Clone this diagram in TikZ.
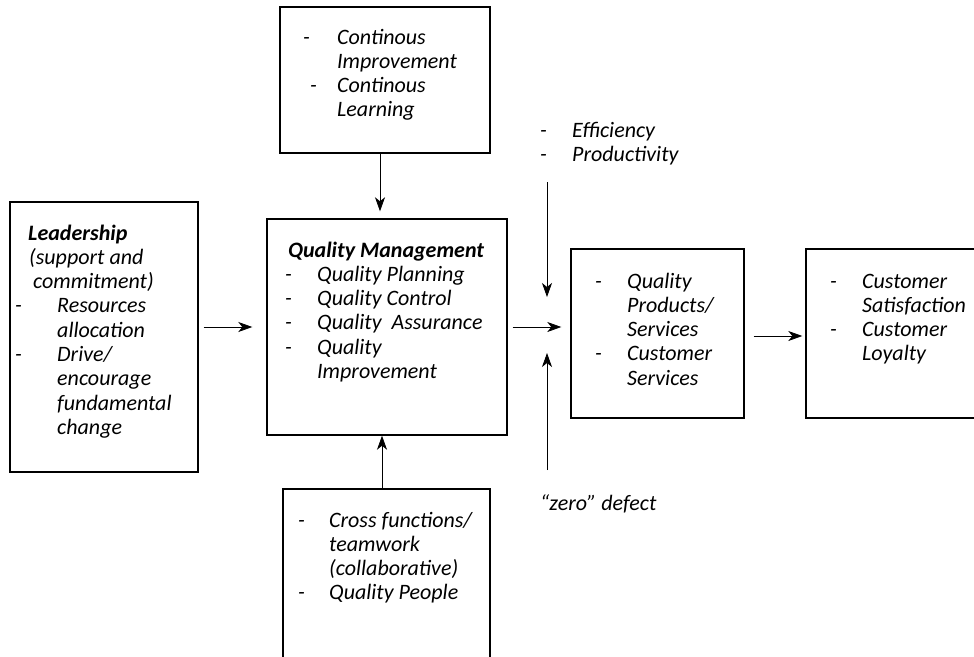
\documentclass[tikz,border=0pt]{standalone}
\usepackage{fontspec}
\setmainfont{Carlito}
\usetikzlibrary{arrows.meta}
\newcommand{\dsh}[1]{\makebox[#1][l]{-}}
\begin{document}
\begin{tikzpicture}[x=1pt,y=-1pt,
  box/.style={draw, line width=1.4pt, rectangle, inner sep=0pt},
  arr/.style={-{Stealth[length=14pt,width=10pt,inset=4pt]}, line width=0.8pt},
  txt/.style={anchor=base west, inner sep=0pt, font=\itshape\fontsize{22}{24.3}\selectfont}]
\useasboundingbox (0,0) rectangle (974,656);
\clip (0,0) rectangle (974,656);

% boxes
\node[box, minimum width=210pt, minimum height=146pt] (top) at (385,80) {};
\node[box, minimum width=240pt, minimum height=216pt] (qm) at (387,327) {};
\node[box, minimum width=188pt, minimum height=270pt] (lead) at (104,337) {};
\node[box, minimum width=173pt, minimum height=169pt] (prod) at (657.5,333.5) {};
\node[box, minimum width=184pt, minimum height=169pt] (cust) at (898,333.5) {};
\node[box, minimum width=207pt, minimum height=191pt] (bot) at (386.5,584.5) {};

% texts
\node[txt] (leadtxt) at (15,240) {\begin{tabular}[t]{@{}l@{}}
\hspace*{13pt}\textbf{Leadership}\\
\hspace*{14pt}(support and\\
\hspace*{18pt}commitment)\\
\dsh{42pt}Resources\\
\hspace*{42pt}allocation\\
\dsh{42pt}Drive/\\
\hspace*{42pt}encourage\\
\hspace*{42pt}fundamental\\
\hspace*{42pt}change
\end{tabular}};

\node[txt] (toptxt) at (303,44) {\begin{tabular}[t]{@{}l@{}}
\dsh{34pt}Continous\\
\hspace*{34pt}Improvement\\
\hspace*{7pt}\dsh{27pt}Continous\\
\hspace*{34pt}Learning
\end{tabular}};

\node[txt] (qmtxt) at (285,257) {\begin{tabular}[t]{@{}l@{}}
\hspace*{3pt}\textbf{Quality Management}\\
\dsh{32pt}Quality Planning\\
\dsh{32pt}Quality Control\\
\dsh{32pt}Quality\ \ Assurance\\
\dsh{32pt}Quality\\
\hspace*{32pt}Improvement
\end{tabular}};

\node[txt] (prodtxt) at (595,288) {\begin{tabular}[t]{@{}l@{}}
\dsh{32pt}Quality\\
\hspace*{32pt}Products/\\
\hspace*{32pt}Services\\
\dsh{32pt}Customer\\
\hspace*{32pt}Services
\end{tabular}};

\node[txt] (custtxt) at (830,288) {\begin{tabular}[t]{@{}l@{}}
\dsh{32pt}Customer\\
\hspace*{32pt}Satisfaction\\
\dsh{32pt}Customer\\
\hspace*{32pt}Loyalty
\end{tabular}};

\node[txt] (efftxt) at (540,137) {\begin{tabular}[t]{@{}l@{}}
\dsh{32pt}Efficiency\\
\dsh{32pt}Productivity
\end{tabular}};

\node[txt] (zdtxt) at (540,510) {“zero” defect};

\node[txt] (bottxt) at (298,527) {\begin{tabular}[t]{@{}l@{}}
\dsh{31pt}Cross functions/\\
\hspace*{31pt}teamwork\\
\hspace*{31pt}(collaborative)\\
\dsh{31pt}Quality People
\end{tabular}};

% connector end points
\coordinate (effs) at (547,182);
\coordinate (effe) at (547,297);
\coordinate (zds) at (547,470);
\coordinate (zde) at (547,353);

% connectors
\draw[arr, shorten <=5pt, shorten >=14pt] (lead.east |- qm.west) -- (qm.west);
\draw[arr, shorten >=7pt] ([xshift=-5pt]top.south) -- ([xshift=-7pt]qm.north);
\draw[arr, shorten <=5pt, shorten >=9pt] (qm.east) -- (qm.east -| prod.west);
\draw[arr] (effs) -- (effe);
\draw[arr] (zds) -- (zde);
\draw[arr, shorten <=9pt, shorten >=3pt] ([yshift=-2.5pt]prod.east) -- ([yshift=-2.5pt]cust.west);
\draw[arr] ([xshift=-4.5pt]bot.north) -- ([xshift=-5pt]qm.south);
\end{tikzpicture}
\end{document}
